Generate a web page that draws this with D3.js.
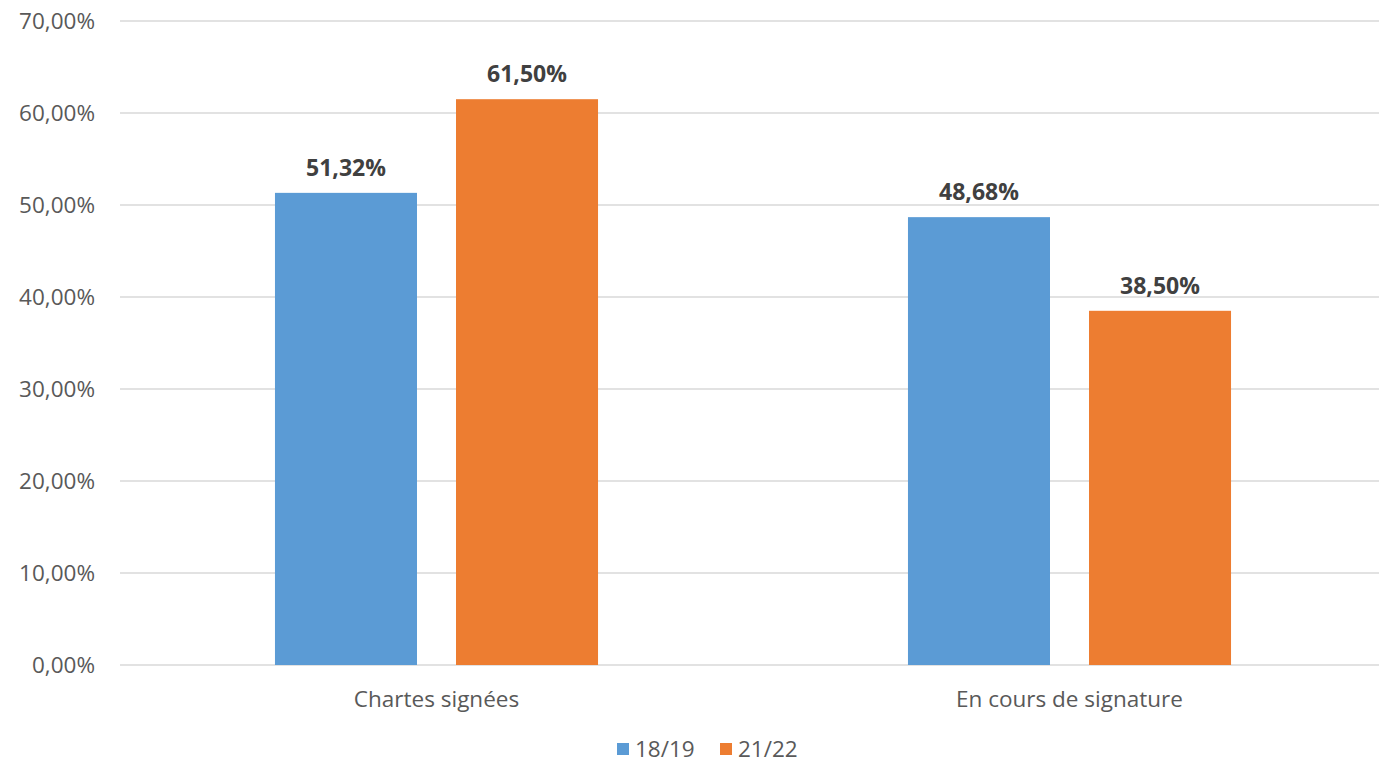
<!DOCTYPE html>
<html>
<head>
<meta charset="utf-8">
<script src="https://cdn.jsdelivr.net/npm/d3@7"></script>
<style>
    body { margin: 0; background: #fff; }
    text { font-family: "Open Sans", "Noto Sans", sans-serif; }
</style>
</head>
<body>
<div id="chart"></div>
<script>
const categories = ["Chartes signées", "En cours de signature"];
const seriesNames = ["18/19", "21/22"];
const values1819 = [51.32, 48.68];
const values2122 = [61.50, 38.50];
const yTicks = [0, 10, 20, 30, 40, 50, 60, 70];
const colors = ["#5b9bd5", "#ed7d31"];

const width = 1379;
const height = 764;

const svg = d3.select("#chart")
    .append("svg")
    .attr("width", width)
    .attr("height", height);

const x0 = d3.scaleBand()
    .domain(categories)
    .range([120, 1386])
    .padding(0);

const x1 = d3.scaleBand()
    .domain(seriesNames)
    .range([0, x0.bandwidth()])
    .paddingInner(0.2155)
    .paddingOuter(0.856);

const y = d3.scaleLinear()
    .domain([0, 70])
    .range([665, 21]);

const fmt = (v) => d3.format(".2f")(v).replace(".", ",") + "%";

// grid lines
svg.append("g")
    .selectAll("line")
    .data(yTicks)
    .enter()
    .append("line")
    .attr("x1", 120)
    .attr("x2", width)
    .attr("y1", (d) => y(d))
    .attr("y2", (d) => y(d))
    .style("stroke", "#d9d9d9")
    .style("stroke-width", 1.3);

// y labels
svg.append("g")
    .selectAll("text")
    .data(yTicks)
    .enter()
    .append("text")
    .attr("x", 95)
    .attr("y", (d) => y(d))
    .attr("dy", "0.35em")
    .attr("text-anchor", "end")
    .style("font-size", "22.5px")
    .style("fill", "#595959")
    .text((d) => fmt(d));

const rows = categories.map((c, i) => ({
    cat: c,
    vals: [values1819[i], values2122[i]],
}));

const groups = svg.append("g")
    .selectAll("g")
    .data(rows)
    .enter()
    .append("g")
    .attr("transform", (d) => `translate(${x0(d.cat)},0)`);

const bars = groups.selectAll("g")
    .data((d) => d.vals.map((v, j) => ({ name: seriesNames[j], v, j })))
    .enter()
    .append("g");

bars.append("rect")
    .attr("x", (d) => x1(d.name))
    .attr("width", x1.bandwidth())
    .attr("y", (d) => y(d.v))
    .attr("height", (d) => y(0) - y(d.v))
    .style("fill", (d) => colors[d.j]);

// data labels
bars.append("text")
    .attr("x", (d) => x1(d.name) + x1.bandwidth() / 2)
    .attr("y", (d) => y(d.v) - 17)
    .attr("text-anchor", "middle")
    .style("font-size", "23px")
    .style("font-weight", "bold")
    .style("fill", "#404040")
    .text((d) => fmt(d.v));

// category labels
svg.append("g")
    .selectAll("text")
    .data(categories)
    .enter()
    .append("text")
    .attr("x", (d) => x0(d) + x0.bandwidth() / 2)
    .attr("y", 699)
    .attr("dy", "0.35em")
    .attr("text-anchor", "middle")
    .style("font-size", "22.5px")
    .style("fill", "#595959")
    .text((d) => d);

// legend
const legendX = [617, 720];
const legend = svg.append("g")
    .selectAll("g")
    .data(seriesNames)
    .enter()
    .append("g")
    .attr("transform", (d, i) => `translate(${legendX[i]},743)`);

legend.append("rect")
    .attr("width", 12)
    .attr("height", 12)
    .style("fill", (d, i) => colors[i]);

legend.append("text")
    .attr("x", 18)
    .attr("y", 6)
    .attr("dy", "0.35em")
    .style("font-size", "22.5px")
    .style("fill", "#595959")
    .text((d) => d);
</script>
</body>
</html>
